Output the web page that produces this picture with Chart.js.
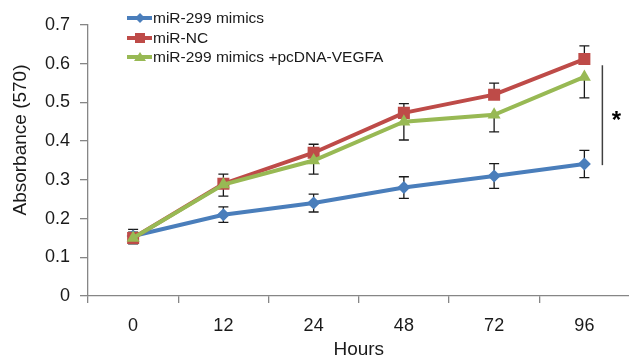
<!DOCTYPE html>
<html>
<head>
<meta charset="utf-8">
<script src="https://cdn.jsdelivr.net/npm/chart.js@4.4.1/dist/chart.umd.min.js"></script>
<style>
  body { margin: 0; background: #fff; overflow: hidden; }
  #wrap { width: 638px; height: 359px; }
</style>
</head>
<body>
<div id="wrap"><canvas id="chart" width="638" height="359"></canvas></div>
<script>
// categorias (horas) y valores
const hours = ['0', '12', '24', '48', '72', '96'];

const mimics = [0.155, 0.21, 0.24, 0.28, 0.31, 0.341];
const mimicsErr = [0.017, 0.02, 0.023, 0.028, 0.032, 0.035];

const miNC = [0.15, 0.29, 0.37, 0.473, 0.52, 0.612];
const miNCErr = [0.015, 0.025, 0.022, 0.024, 0.03, 0.034];

const mimicsVegfa = [0.15, 0.288, 0.35, 0.45, 0.468, 0.566];
const mimicsVegfaErr = [0.015, 0.03, 0.035, 0.047, 0.044, 0.054];

const seriesLabels = ['miR-299 mimics', 'miR-NC', 'miR-299 mimics +pcDNA-VEGFA'];
const yTicks = [0, 0.1, 0.2, 0.3, 0.4, 0.5, 0.6, 0.7];
const yTitle = 'Absorbance (570)';

const FONT = "'Liberation Sans', Arial, sans-serif";
const AXIS = '#868686';
const TEXT = '#1a1a1a';

// Barras de error (detras de los marcadores)
const errorBars = {
    id: 'errorBars',
    beforeDatasetsDraw(chart) {
        const ctx = chart.ctx;
        const y = chart.scales.y;
        ctx.save();
        ctx.strokeStyle = TEXT;
        ctx.lineWidth = 1.3;
        chart.data.datasets.forEach((ds, i) => {
            const meta = chart.getDatasetMeta(i);
            meta.data.forEach((pt, j) => {
                const v = ds.data[j];
                const e = ds.err[j];
                const yTop = ds.errDir === 'minus' ? y.getPixelForValue(v) : y.getPixelForValue(v + e);
                const yBot = ds.errDir === 'plus' ? y.getPixelForValue(v) : y.getPixelForValue(v - e);
                ctx.beginPath();
                ctx.moveTo(pt.x, yTop);
                ctx.lineTo(pt.x, yBot);
                if (ds.errDir !== 'minus') {
                    ctx.moveTo(pt.x - 5, yTop);
                    ctx.lineTo(pt.x + 5, yTop);
                }
                if (ds.errDir !== 'plus') {
                    ctx.moveTo(pt.x - 5, yBot);
                    ctx.lineTo(pt.x + 5, yBot);
                }
                ctx.stroke();
            });
        });
        ctx.restore();
    }
};

// Leyenda dentro del grafico, titulo del eje Y y marca de significancia
const extras = {
    id: 'extras',
    afterDraw(chart) {
        const ctx = chart.ctx;
        const x = chart.scales.x;
        const y = chart.scales.y;
        ctx.save();

        // titulo eje Y
        ctx.save();
        ctx.translate(20, 140);
        ctx.rotate(-Math.PI / 2);
        ctx.fillStyle = TEXT;
        ctx.font = '19px ' + FONT;
        ctx.textAlign = 'center';
        ctx.textBaseline = 'middle';
        ctx.fillText(yTitle, 0, 1);
        ctx.restore();

        // leyenda
        const rows = [18, 38, 57];
        chart.data.datasets.forEach((ds, i) => {
            const cy = rows[i];
            ctx.strokeStyle = ds.borderColor;
            ctx.lineWidth = 4;
            ctx.beginPath();
            ctx.moveTo(127, cy);
            ctx.lineTo(152, cy);
            ctx.stroke();
            ctx.fillStyle = ds.backgroundColor;
            const r = 5;
            ctx.beginPath();
            if (ds.pointStyle === 'rectRot') {
                ctx.moveTo(140, cy - r); ctx.lineTo(140 + r, cy); ctx.lineTo(140, cy + r); ctx.lineTo(140 - r, cy);
            } else if (ds.pointStyle === 'rect') {
                ctx.rect(140 - r, cy - r, 2 * r, 2 * r);
            } else {
                ctx.moveTo(140, cy - r); ctx.lineTo(140 + r + 1, cy + r - 1); ctx.lineTo(140 - r - 1, cy + r - 1);
            }
            ctx.closePath();
            ctx.fill();
            ctx.fillStyle = TEXT;
            ctx.font = '15.5px ' + FONT;
            ctx.textBaseline = 'middle';
            ctx.textAlign = 'left';
            ctx.fillText(ds.label, 153, cy + 1);
        });

        // linea vertical y asterisco
        const lx = x.getPixelForValue(5) + 18;
        ctx.strokeStyle = '#404040';
        ctx.lineWidth = 1.5;
        ctx.beginPath();
        ctx.moveTo(lx, y.getPixelForValue(0.596));
        ctx.lineTo(lx, y.getPixelForValue(0.338));
        ctx.stroke();
        ctx.fillStyle = '#000';
        ctx.font = 'bold 24px ' + FONT;
        ctx.textAlign = 'center';
        ctx.textBaseline = 'middle';
        ctx.fillText('*', lx + 14, y.getPixelForValue(0.465) + 5);
        ctx.restore();
    }
};

const lineDataset = (label, data, err, color, style, radius, order, errDir) => ({
    label,
    data,
    err,
    errDir,
    borderColor: color,
    backgroundColor: color,
    borderWidth: 4,
    pointStyle: style,
    pointRadius: radius,
    pointBorderWidth: 0,
    pointBackgroundColor: color,
    order,
    tension: 0
});

new Chart(document.getElementById('chart'), {
    type: 'line',
    data: {
        labels: hours,
        datasets: [
            lineDataset(seriesLabels[0], mimics, mimicsErr, '#4A7EBB', 'rectRot', 6.5, 3, 'both'),
            lineDataset(seriesLabels[1], miNC, miNCErr, '#BE4B48', 'rect', 8.5, 2, 'plus'),
            lineDataset(seriesLabels[2], mimicsVegfa, mimicsVegfaErr, '#98B954', 'triangle', 7.5, 1, 'minus')
        ]
    },
    options: {
        responsive: false,
        animation: false,
        layout: { padding: { left: 0, right: 0, top: 25, bottom: 0 } },
        plugins: {
            legend: { display: false },
            tooltip: { enabled: false }
        },
        scales: {
            x: {
                type: 'category',
                offset: true,
                grid: { drawOnChartArea: false, drawTicks: true, tickLength: 7, offset: true, color: AXIS, lineWidth: 1.3 },
                border: { color: AXIS, width: 1.3 },
                ticks: { color: TEXT, font: { family: FONT, size: 18 }, padding: 12 },
                title: { display: true, text: 'Hours', color: TEXT, font: { family: FONT, size: 19, lineHeight: 1 }, padding: 0 },
                afterFit(scale) { scale.height = 63; }
            },
            y: {
                min: 0,
                max: 0.7,
                afterBuildTicks(scale) { scale.ticks = yTicks.map(v => ({ value: v })); },
                grid: { drawOnChartArea: false, drawTicks: true, tickLength: 8, color: AXIS, lineWidth: 1.3 },
                border: { color: AXIS, width: 1.3 },
                ticks: {
                    color: TEXT,
                    font: { family: FONT, size: 18 },
                    padding: 10,
                    callback: (v) => (v === 0 ? '0' : Number(v).toFixed(1))
                },
                afterFit(scale) { scale.width = 88; }
            }
        }
    },
    plugins: [errorBars, extras]
});
</script>
</body>
</html>
